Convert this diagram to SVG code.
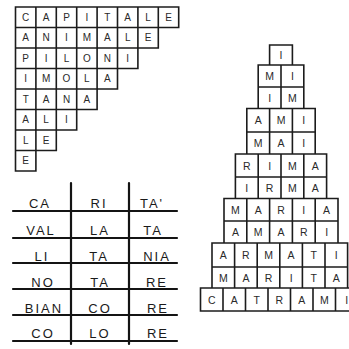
<svg xmlns="http://www.w3.org/2000/svg" width="349" height="349" viewBox="0 0 349 349">
<style>
.bg{fill:#ffffff}
.grid{fill:none;stroke:#1c1c1c;stroke-width:1.6;stroke-linecap:square}
.rule{fill:none;stroke:#141414;stroke-width:2.2;stroke-linecap:round}
.cell{font-family:"Liberation Sans",Arial,sans-serif;font-size:10px;fill:#2a2a2a;text-anchor:middle}
.pyr{font-family:"Liberation Sans",Arial,sans-serif;font-size:10.5px;fill:#2a2a2a;text-anchor:middle}
.syl{font-family:"Liberation Sans",Arial,sans-serif;font-size:13px;fill:#1a1a1a;text-anchor:middle;letter-spacing:2px}
</style>
<rect class="bg" x="0" y="0" width="349" height="349"/>

<g id="word-square">
<path class="grid" d="M15.5 7 H178.7 M15.5 27.5 H178.7 M15.5 48 H158.3 M15.5 68.5 H137.9 M15.5 89 H117.5 M15.5 109.5 H97.1 M15.5 130 H76.7 M15.5 150.5 H56.3 M15.5 171 H35.9 M15.5 7 V171 M35.9 7 V171 M56.3 7 V150.5 M76.7 7 V130 M97.1 7 V109.5 M117.5 7 V89 M137.9 7 V68.5 M158.3 7 V48 M178.7 7 V27.5"/>
<text class="cell" x="25.7 46.1 66.5 86.9 107.3 127.7 148.1 168.5" y="20.9">CAPITALE</text>
<text class="cell" x="25.7 46.1 66.5 86.9 107.3 127.7 148.1" y="41.4">ANIMALE</text>
<text class="cell" x="25.7 46.1 66.5 86.9 107.3 127.7" y="61.9">PILONI</text>
<text class="cell" x="25.7 46.1 66.5 86.9 107.3" y="82.4">IMOLA</text>
<text class="cell" x="25.7 46.1 66.5 86.9" y="102.9">TANA</text>
<text class="cell" x="25.7 46.1 66.5" y="123.4">ALI</text>
<text class="cell" x="25.7 46.1" y="143.9">LE</text>
<text class="cell" x="25.7" y="164.4">E</text>
</g>

<g id="syllable-table">
<path class="rule" d="M13 211 H177 M13 238 H177 M13 263 H177 M13 289 H177 M13 315 H177 M13 341 H177 M71 183 V344 M129 183 V344"/>
<text class="syl" x="40" y="208">CA</text>
<text class="syl" x="99" y="208">RI</text>
<text class="syl" x="152" y="208">TA'</text>
<text class="syl" x="41" y="235">VAL</text>
<text class="syl" x="100" y="235">LA</text>
<text class="syl" x="153" y="235">TA</text>
<text class="syl" x="42" y="260.5">LI</text>
<text class="syl" x="99" y="260.5">TA</text>
<text class="syl" x="157" y="260.5">NIA</text>
<text class="syl" x="43" y="286.5">NO</text>
<text class="syl" x="100" y="286.5">TA</text>
<text class="syl" x="157" y="286.5">RE</text>
<text class="syl" x="44" y="312.5">BIAN</text>
<text class="syl" x="100" y="312.5">CO</text>
<text class="syl" x="158" y="312.5">RE</text>
<text class="syl" x="43" y="338">CO</text>
<text class="syl" x="100" y="338">LO</text>
<text class="syl" x="158" y="338">RE</text>
</g>

<g id="pyramid">
<path class="grid" d="M269.6 45 h22.8 v20 h-22.8 Z
M258.2 65 h45.6 v22 h-45.6 Z M281 65 v22
M258.2 87 h45.6 v21.5 h-45.6 Z M281 87 v21.5
M246.8 108.5 h68.4 v23.5 h-68.4 Z M269.6 108.5 v23.5 M292.4 108.5 v23.5
M246.8 132 h68.4 v22 h-68.4 Z M269.6 132 v22 M292.4 132 v22
M235.4 154 h91.2 v23 h-91.2 Z M258.2 154 v23 M281 154 v23 M303.8 154 v23
M235.4 177 h91.2 v21.5 h-91.2 Z M258.2 177 v21.5 M281 177 v21.5 M303.8 177 v21.5
M224 198.5 h114 v22.5 h-114 Z M246.8 198.5 v22.5 M269.6 198.5 v22.5 M292.4 198.5 v22.5 M315.2 198.5 v22.5
M224 221 h114 v22 h-114 Z M246.8 221 v22 M269.6 221 v22 M292.4 221 v22 M315.2 221 v22
M212 243 h135.6 v24 h-135.6 Z M234.6 243 v24 M257.2 243 v24 M279.8 243 v24 M302.4 243 v24 M325 243 v24
M212 267 h135.6 v21 h-135.6 Z M234.6 267 v21 M257.2 267 v21 M279.8 267 v21 M302.4 267 v21 M325 267 v21
M200.5 288 h157.5 v23 h-157.5 Z M223 288 v23 M245.5 288 v23 M268 288 v23 M290.5 288 v23 M313 288 v23 M335.5 288 v23"/>
<text class="pyr" x="281" y="59">I</text>
<text class="pyr" x="269.6 292.4" y="80">MI</text>
<text class="pyr" x="269.6 292.4" y="101.7">IM</text>
<text class="pyr" x="258.2 281 303.8" y="124.2">AMI</text>
<text class="pyr" x="258.2 281 303.8" y="147">MAI</text>
<text class="pyr" x="246.8 269.6 292.4 315.2" y="169.5">RIMA</text>
<text class="pyr" x="246.8 269.6 292.4 315.2" y="191.7">IRMA</text>
<text class="pyr" x="235.4 258.2 281 303.8 326.6" y="213.7">MARIA</text>
<text class="pyr" x="235.4 258.2 281 303.8 326.6" y="236">AMARI</text>
<text class="pyr" x="223.3 245.9 268.5 291.1 313.7 336.3" y="259">ARMATI</text>
<text class="pyr" x="223.3 245.9 268.5 291.1 313.7 336.3" y="281.5">MARITA</text>
<text class="pyr" x="211.75 234.25 256.75 279.25 301.75 324.25 346.75" y="303.5">CATRAMI</text>
</g>
</svg>
